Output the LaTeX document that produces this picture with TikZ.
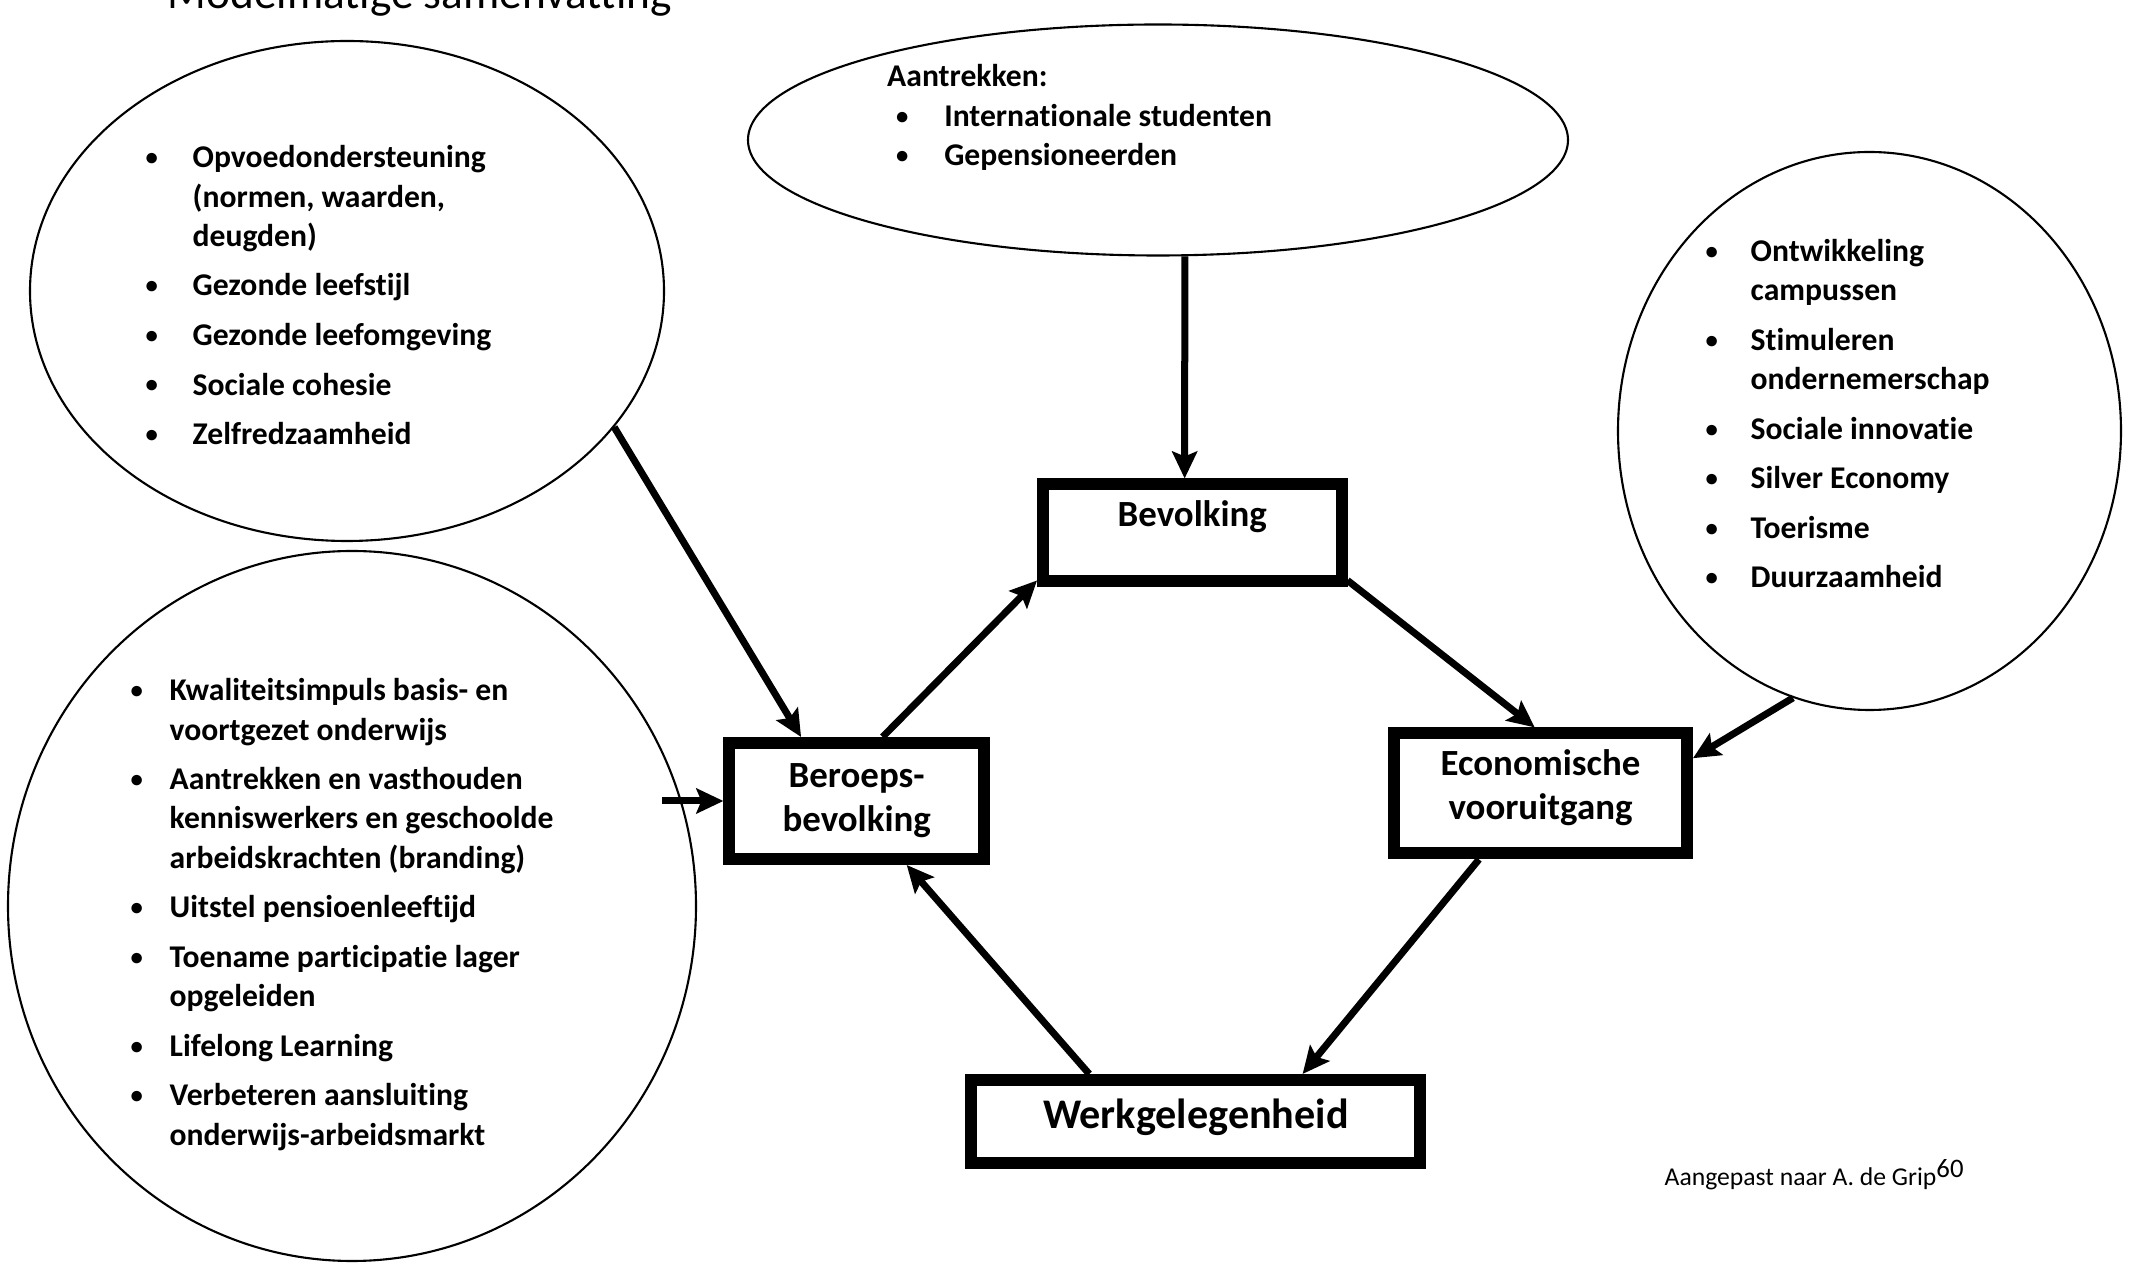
\documentclass[tikz,border=0pt]{standalone}
\usepackage{fontspec}
\setmainfont{Carlito}[Ligatures=NoCommon]
\usetikzlibrary{shapes.geometric, arrows.meta}
\tikzset{
    ovaal/.style={ellipse, draw, line width=0.6pt, inner sep=0pt}
}
\tikzset{
    vak/.style={rectangle, draw, line width=0.12cm, inner sep=0pt, align=center,
        font=\fontsize{10.5}{12.5}\selectfont\bfseries}
}
\tikzset{
    lijst/.style={inner sep=0pt, anchor=base west,
        font=\fontsize{9}{11.2}\selectfont\bfseries}
}
\tikzset{
    pijl/.style={line width=0.07cm,
        -{Stealth[length=0.27cm, width=0.25cm, inset=0.05cm]}}
}
\newcommand{\bul}{\raisebox{0.15ex}{\scalebox{0.78}{\textbullet}}}

\begin{document}
\begin{tikzpicture}
  \useasboundingbox (0cm, 0cm) rectangle (21.32cm, -12.65cm);

  % ovalen
  \node (opv) [ovaal, minimum width=6.34cm, minimum height=5.00cm] at (3.47cm, -2.91cm) {};
  \node (aantr) [ovaal, minimum width=8.20cm, minimum height=2.31cm] at (11.58cm, -1.40cm) {};
  \node (regio) [ovaal, minimum width=5.03cm, minimum height=5.58cm] at (18.695cm, -4.31cm) {};
  \node (onderw) [ovaal, minimum width=6.88cm, minimum height=7.10cm] at (3.52cm, -9.06cm) {};

  % teksten in de ovalen
  \node (opvtekst) [lijst] at (1.45cm, -1.677cm) {\begin{tabular}[t]{@{}p{0.47cm}@{}l@{}}
    \bul & Opvoedondersteuning\\
         & (normen, waarden,\\
         & deugden)\\[2.9pt]
    \bul & Gezonde leefstijl\\[2.9pt]
    \bul & Gezonde leefomgeving\\[2.9pt]
    \bul & Sociale cohesie\\[2.9pt]
    \bul & Zelfredzaamheid
  \end{tabular}};
  \node (aantrtekst) [lijst] at (8.865cm, -0.87cm) {\begin{tabular}[t]{@{}p{0.571cm}@{}l@{}}
    \multicolumn{2}{@{}l@{}}{Aantrekken:}\\
    \hspace*{0.09cm}\bul & Internationale studenten\\
    \hspace*{0.09cm}\bul & Gepensioneerden
  \end{tabular}};
  \node (regiotekst) [lijst] at (17.05cm, -2.615cm) {\begin{tabular}[t]{@{}p{0.45cm}@{}l@{}}
    \bul & Ontwikkeling\\
         & campussen\\[2.9pt]
    \bul & Stimuleren\\
         & ondernemerschap\\[2.9pt]
    \bul & Sociale innovatie\\[2.9pt]
    \bul & Silver Economy\\[2.9pt]
    \bul & Toerisme\\[2.9pt]
    \bul & Duurzaamheid
  \end{tabular}};
  \node (onderwtekst) [lijst] at (1.30cm, -7.007cm) {\begin{tabular}[t]{@{}p{0.39cm}@{}l@{}}
    \bul & Kwaliteitsimpuls basis- en\\
         & voortgezet onderwijs\\[2.9pt]
    \bul & Aantrekken en vasthouden\\
         & kenniswerkers en geschoolde\\
         & arbeidskrachten (branding)\\[2.9pt]
    \bul & Uitstel pensioenleeftijd\\[2.9pt]
    \bul & Toename participatie lager\\
         & opgeleiden\\[2.9pt]
    \bul & Lifelong Learning\\[2.9pt]
    \bul & Verbeteren aansluiting\\
         & onderwijs-arbeidsmarkt
  \end{tabular}};

  % vakken
  \node (bev) [vak, minimum width=2.985cm, minimum height=0.97cm,
    text height=0.30cm, text depth=0.428cm] at (11.923cm, -5.33cm) {Bevolking};
  \node (beroeps) [vak, minimum width=2.546cm, minimum height=1.16cm,
    text height=0.30cm, text depth=0.568cm] at (8.567cm, -8.01cm)
    {\begin{tabular}[t]{@{}c@{}}Beroeps-\\bevolking\end{tabular}};
  \node (econ) [vak, minimum width=2.93cm, minimum height=1.20cm,
    text height=0.30cm, text depth=0.656cm] at (15.405cm, -7.934cm)
    {\begin{tabular}[t]{@{}c@{}}Economische\\vooruitgang\end{tabular}};
  \node (werk) [vak, minimum width=4.49cm, minimum height=0.83cm,
    text height=0.30cm, text depth=0.16cm, font=\fontsize{12}{14}\selectfont\bfseries] at (11.959cm, -11.215cm) {Werkgelegenheid};

  \node (titel) [anchor=base west, inner sep=0pt, font=\fontsize{12.9}{15}\selectfont] at (1.67cm, -0.09cm) {Modelmatige samenvatting};
  \node (bron) [anchor=base west, inner sep=0pt] at (16.64cm, -11.86cm)
    {\fontsize{7.3}{9}\selectfont Aangepast naar A. de Grip\fontsize{7.6}{9}\selectfont\raisebox{2.4pt}{60}};
  \coordinate (instroom) at (6.62cm, -8.01cm);

  % pijlen
  \draw (aantr.-77) edge [pijl] (bev.98); \draw (opv.-27) edge [pijl] (beroeps.131);
  \draw (beroeps.68) edge [pijl] (bev.197); \draw (bev.-17) edge [pijl] (econ.95);
  \draw (regio.-106) edge [pijl] (econ.13); \draw (econ.-133) edge [pijl] (werk.24);
  \draw (werk.156) edge [pijl] (beroeps.-52); \draw (instroom) edge [pijl] (beroeps.west);
\end{tikzpicture}
\end{document}
